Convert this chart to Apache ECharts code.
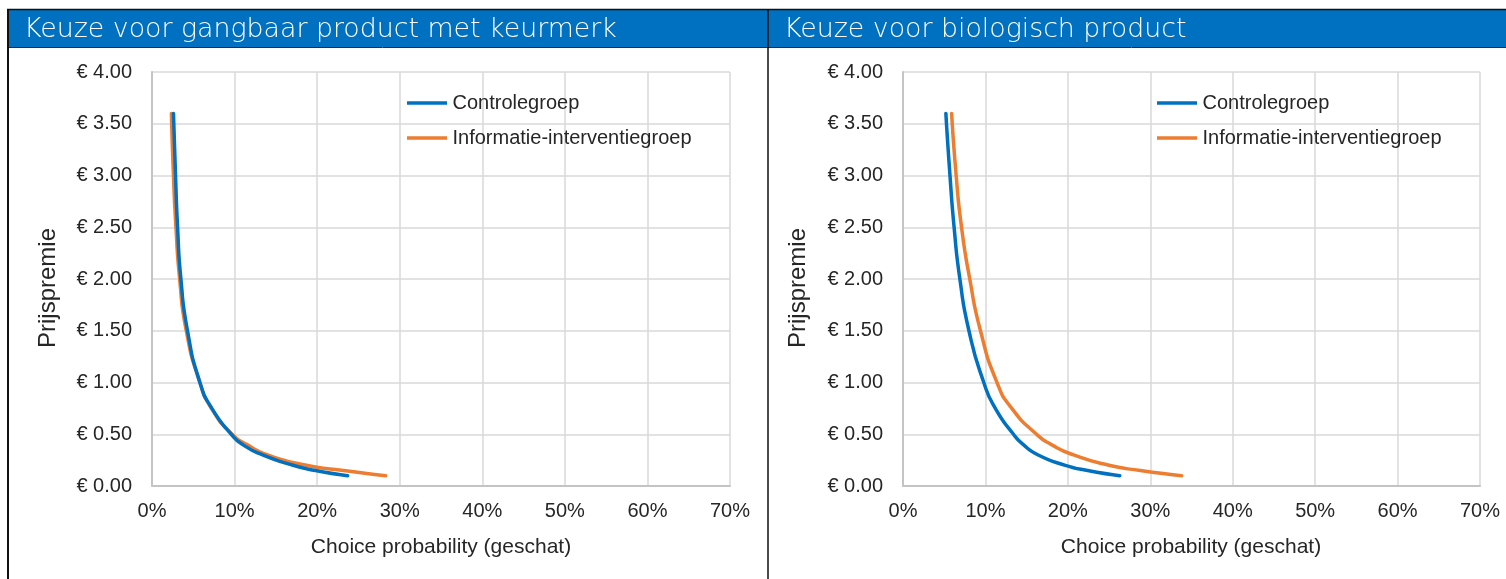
<!DOCTYPE html>
<html>
<head>
<meta charset="utf-8">
<script src="https://cdn.jsdelivr.net/npm/echarts@6/dist/echarts.min.js"></script>
<style>
  html, body { margin: 0; padding: 0; background: #ffffff; }
  #chart { width: 1506px; height: 579px; }
</style>
</head>
<body>
<div id="chart"></div>
<script>
// Price premium levels (euro) at which the choice probability was estimated
const prices = [3.60, 3.00, 2.50, 2.00, 1.50, 1.00, 0.75, 0.50, 0.40, 0.30, 0.20, 0.15, 0.10];

// Choice probability (%) — conventional product with quality label
const gangbaarControle = [2.6, 2.85, 3.1, 3.5, 4.3, 5.8, 7.25, 9.6, 11.0, 13.4, 17.1, 19.8, 23.7];
const gangbaarInformatie = [2.35, 2.6, 2.9, 3.35, 4.15, 5.8, 7.2, 9.7, 11.5, 14.0, 18.7, 23.2, 28.3];

// Choice probability (%) — organic product
const biologischControle = [5.2, 5.7, 6.2, 6.9, 8.0, 9.8, 11.2, 13.4, 14.6, 16.4, 19.7, 22.4, 26.3];
const biologischInformatie = [5.9, 6.45, 7.1, 8.1, 9.4, 11.4, 13.2, 16.2, 18.0, 20.7, 25.0, 28.8, 33.8];

const panelTitles = ['Keuze voor gangbaar product met keurmerk', 'Keuze voor biologisch product'];
const seriesNames = ['Controlegroep', 'Informatie-interventiegroep'];
const xTicks = [0, 10, 20, 30, 40, 50, 60, 70];
const yTicks = [0, 0.5, 1, 1.5, 2, 2.5, 3, 3.5, 4];
const xTitle = 'Choice probability (geschat)';
const yTitle = 'Prijspremie';

const BLUE = '#0070C0';
const ORANGE = '#ED7D31';
const TEXT = '#262626';
const FONT = "'Liberation Sans', Arial, sans-serif";

const pairs = (xs) => xs.map((x, i) => [x, prices[i]]);

const grids = [
  { left: 152, top: 72, width: 578, height: 414 },
  { left: 903, top: 72, width: 577, height: 414 }
];

function xAxisFor(gi) {
  return {
    type: 'value', gridIndex: gi,
    min: xTicks[0], max: xTicks[xTicks.length - 1], interval: 10,
    axisLine: { show: true, lineStyle: { color: '#c4c4c4', width: 2 } },
    axisTick: { show: false },
    splitLine: { show: true, lineStyle: { color: '#d9d9d9', width: 1.5 } },
    axisLabel: { color: TEXT, fontFamily: FONT, fontSize: 20, margin: 15, formatter: v => v + '%' }
  };
}
function yAxisFor(gi) {
  return {
    type: 'value', gridIndex: gi,
    min: yTicks[0], max: yTicks[yTicks.length - 1], interval: 0.5,
    axisLine: { show: true, lineStyle: { color: '#c4c4c4', width: 2 } },
    axisTick: { show: false },
    splitLine: { show: true, lineStyle: { color: '#d9d9d9', width: 1.5 } },
    axisLabel: { color: TEXT, fontFamily: FONT, fontSize: 20, margin: 20, formatter: v => '€\u00a0' + v.toFixed(2) }
  };
}
function curve(name, data, color, gi) {
  return {
    type: 'line', name: name, xAxisIndex: gi, yAxisIndex: gi,
    data: pairs(data), smooth: 0.6,
    symbol: 'none', showSymbol: false,
    lineStyle: { color: color, width: 3.5, cap: 'round', join: 'round' },
    itemStyle: { color: color },
    z: name === seriesNames[1] ? 3 : 4
  };
}
function legendFor(left) {
  return {
    orient: 'vertical', left: left, top: 88,
    data: seriesNames.map(n => ({ name: n, icon: 'path://M0,0 L40,0 L40,3.5 L0,3.5 Z' })),
    itemWidth: 41, itemHeight: 3.5, itemGap: 15, itemTextGap: 5,
    textStyle: { color: TEXT, fontFamily: FONT, fontSize: 20, lineHeight: 20 },
    selectedMode: false
  };
}

const chart = echarts.init(document.getElementById('chart'), null, { renderer: 'canvas' });

const headerFont = "'DejaVu Sans ExtraLight', 'DejaVu Sans', sans-serif";

chart.setOption({
  animation: false,
  backgroundColor: '#ffffff',
  grid: grids,
  xAxis: [xAxisFor(0), xAxisFor(1)],
  yAxis: [yAxisFor(0), yAxisFor(1)],
  legend: [legendFor(402), legendFor(1152)],
  series: [
    curve(seriesNames[0], gangbaarControle, BLUE, 0),
    curve(seriesNames[1], gangbaarInformatie, ORANGE, 0),
    curve(seriesNames[0], biologischControle, BLUE, 1),
    curve(seriesNames[1], biologischInformatie, ORANGE, 1)
  ],
  graphic: [
    // header band and frame
    { type: 'rect', shape: { x: 8, y: 10, width: 1498, height: 37 }, style: { fill: BLUE }, z: 1 },
    { type: 'line', shape: { x1: 7, y1: 9.5, x2: 1506, y2: 9.5 }, style: { stroke: '#111', lineWidth: 1.5 }, z: 2 },
    { type: 'line', shape: { x1: 8, y1: 47.5, x2: 1506, y2: 47.5 }, style: { stroke: '#1a2a3a', lineWidth: 1 }, z: 2 },
    { type: 'line', shape: { x1: 8, y1: 9, x2: 8, y2: 579 }, style: { stroke: '#111', lineWidth: 2 }, z: 2 },
    { type: 'line', shape: { x1: 768, y1: 9, x2: 768, y2: 579 }, style: { stroke: '#111', lineWidth: 1.5 }, z: 2 },
    { type: 'text', left: 24, top: 17, z: 3,
      style: { text: panelTitles[0], fill: '#ffffff', font: '300 26.8px ' + headerFont } },
    { type: 'text', left: 784, top: 17, z: 3,
      style: { text: panelTitles[1], fill: '#ffffff', font: '300 26.8px ' + headerFont } },
    // axis titles
    { type: 'text', x: 441, y: 547, z: 3,
      style: { text: xTitle, fill: TEXT, font: '21px ' + FONT, align: 'center', verticalAlign: 'middle' } },
    { type: 'text', x: 1191, y: 547, z: 3,
      style: { text: xTitle, fill: TEXT, font: '21px ' + FONT, align: 'center', verticalAlign: 'middle' } },
    { type: 'text', x: 48, y: 288, rotation: Math.PI / 2, z: 3,
      style: { text: yTitle, fill: TEXT, font: '24px ' + FONT, align: 'center', verticalAlign: 'middle' } },
    { type: 'text', x: 798, y: 288, rotation: Math.PI / 2, z: 3,
      style: { text: yTitle, fill: TEXT, font: '24px ' + FONT, align: 'center', verticalAlign: 'middle' } }
  ]
});
</script>
</body>
</html>
